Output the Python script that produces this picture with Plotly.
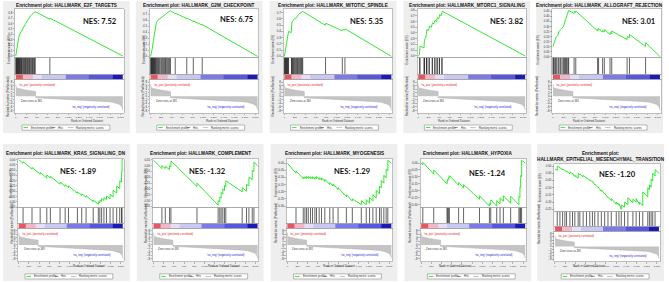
import plotly.graph_objects as go

W, H = 669, 282

# ---------------- data ----------------
panel_titles = [
    "Enrichment plot: HALLMARK_E2F_TARGETS",
    "Enrichment plot: HALLMARK_G2M_CHECKPOINT",
    "Enrichment plot: HALLMARK_MITOTIC_SPINDLE",
    "Enrichment plot: HALLMARK_MTORC1_SIGNALING",
    "Enrichment plot: HALLMARK_ALLOGRAFT_REJECTION",
    "Enrichment plot: HALLMARK_KRAS_SIGNALING_DN",
    "Enrichment plot: HALLMARK_COMPLEMENT",
    "Enrichment plot: HALLMARK_MYOGENESIS",
    "Enrichment plot: HALLMARK_HYPOXIA",
    "Enrichment plot:<br>HALLMARK_EPITHELIAL_MESENCHYMAL_TRANSITION",
]
nes_values = [7.52, 6.75, 5.35, 3.82, 3.01, -1.89, -1.32, -1.29, -1.24, -1.20]

# E2F targets
es_rank_e2f = [0, 20, 40, 60, 80, 100, 130, 160, 190, 220, 250, 280, 310, 340, 370, 648, 652, 2040]
es_score_e2f = [0.0, 0.15, 0.27, 0.36, 0.41, 0.45, 0.50, 0.55, 0.60, 0.65, 0.70, 0.74, 0.77, 0.80, 0.82, 0.68, 0.70, 0.0]
hits_e2f = [2, 8, 15, 22, 30, 36, 45, 52, 60, 68, 75, 85, 95, 105, 112, 120, 135, 150, 160, 172, 185, 195,
            210, 222, 235, 248, 262, 275, 290, 305, 318, 330, 345, 358, 372, 650]
es_ticks_e2f = [0.0, 0.1, 0.2, 0.3, 0.4, 0.5, 0.6, 0.7, 0.8]

# G2M checkpoint
es_rank_g2m = [0, 30, 60, 90, 110, 140, 180, 220, 260, 300, 340, 380, 470, 471, 690, 691, 815, 816, 985, 986, 2040]
es_score_g2m = [0.0, 0.12, 0.30, 0.48, 0.56, 0.60, 0.63, 0.66, 0.69, 0.72, 0.74, 0.76, 0.71, 0.72, 0.63, 0.64,
                0.58, 0.59, 0.52, 0.53, 0.0]
hits_g2m = [3, 10, 18, 25, 33, 40, 50, 58, 66, 75, 85, 95, 108, 120, 135, 150, 165, 180, 200, 215, 232, 250,
            268, 285, 300, 320, 340, 360, 380, 470, 690, 815, 985]
es_ticks_g2m = [0.0, 0.1, 0.2, 0.3, 0.4, 0.5, 0.6, 0.7]

# Mitotic spindle
es_rank_mit = [0, 20, 45, 80, 130, 145, 190, 235, 265, 305, 350, 780, 790, 1100, 1110, 1150, 1160, 2040]
es_score_mit = [0.0, 0.10, 0.20, 0.40, 0.38, 0.55, 0.60, 0.62, 0.67, 0.70, 0.72, 0.50, 0.53, 0.41, 0.43, 0.42,
                0.44, 0.0]
hits_mit = [2, 9, 16, 24, 32, 40, 48, 56, 64, 72, 80, 135, 142, 150, 160, 175, 190, 205, 220, 235, 250, 265,
            280, 295, 310, 325, 340, 350, 785, 1105, 1155]
es_ticks_mit = [0.0, 0.1, 0.2, 0.3, 0.4, 0.5, 0.6, 0.7]

# MTORC1 signaling
es_rank_mtor = [0, 25, 35, 110, 120, 150, 165, 200, 215, 250, 275, 300, 320, 350, 365, 395, 410, 440, 460, 2040]
es_score_mtor = [0.0, 0.02, 0.17, 0.14, 0.28, 0.33, 0.46, 0.44, 0.52, 0.50, 0.58, 0.56, 0.62, 0.60, 0.67, 0.65,
                 0.72, 0.70, 0.78, 0.0]
hits_mtor = [30, 33, 113, 117, 121, 158, 162, 166, 208, 212, 268, 272, 316, 320, 360, 364, 403, 407, 452, 456]
es_ticks_mtor = [0.0, 0.1, 0.2, 0.3, 0.4, 0.5, 0.6, 0.7, 0.8]

# Allograft rejection
es_rank_allo = [0, 20, 38, 62, 95, 110, 150, 200, 240, 270, 300, 403, 404, 435, 436, 851, 852, 870, 871, 947,
                948, 979, 980, 1088, 1089, 1120, 1121, 1414, 1415, 1459, 1460, 1766, 1767, 2040]
es_score_allo = [0.10, 0.13, 0.15, 0.20, 0.21, 0.25, 0.27, 0.30, 0.37, 0.42, 0.46, 0.43, 0.45, 0.44, 0.455,
                 0.255, 0.275, 0.267, 0.28, 0.245, 0.26, 0.245, 0.27, 0.22, 0.24, 0.225, 0.255, 0.17, 0.20,
                 0.19, 0.22, 0.10, 0.14, 0.0]
hits_allo = [0, 8, 20, 38, 55, 62, 95, 110, 135, 150, 175, 200, 220, 240, 255, 270, 290, 300, 403, 435, 851,
             870, 947, 979, 1088, 1120, 1414, 1459, 1766]
es_ticks_allo = [0.0, 0.05, 0.10, 0.15, 0.20, 0.25, 0.30, 0.35, 0.40, 0.45]

# KRAS signaling DN
es_rank_kras = [0, 85, 86, 260, 261, 420, 421, 550, 551, 620, 621, 810, 811, 910, 911, 975, 976, 1150, 1151,
                1235, 1236, 1320, 1321, 1460, 1461, 1560, 1561, 1590, 1591, 1625, 1626, 1670, 1671, 1720, 1721,
                1790, 1791, 1850, 1851, 1920, 1921, 1980, 1981, 2015, 2016, 2025, 2026, 2040]
es_score_kras = [0.0, -0.034, -0.019, -0.089, -0.074, -0.138, -0.123, -0.175, -0.145, -0.173, -0.158, -0.234,
                 -0.214, -0.254, -0.239, -0.265, -0.25, -0.32, -0.305, -0.339, -0.324, -0.358, -0.343, -0.399,
                 -0.384, -0.424, -0.40, -0.412, -0.385, -0.399, -0.37, -0.388, -0.36, -0.38, -0.345, -0.373,
                 -0.33, -0.354, -0.29, -0.318, -0.25, -0.274, -0.20, -0.214, -0.12, -0.124, 0.004, 0.0]
hits_kras = [85, 260, 420, 550, 620, 810, 910, 975, 1150, 1235, 1320, 1460, 1560, 1590, 1625, 1670, 1720, 1790,
             1850, 1920, 1980, 2015, 2025]
es_ticks_kras = [0.0, -0.05, -0.10, -0.15, -0.20, -0.25, -0.30, -0.35, -0.40, -0.45]

# Complement
es_rank_comp = [0, 164, 165, 230, 231, 315, 316, 341, 342, 852, 853, 1266, 1267, 1299, 1300, 1325, 1326, 1358,
                1359, 1390, 1391, 1417, 1418, 1738, 1739, 1823, 1824, 1870, 1871, 1935, 1936, 1968, 1969, 2040]
es_score_comp = [0.045, -0.025, 0.0, -0.025, -0.005, -0.035, 0.0, -0.01, 0.04, -0.18, -0.15, -0.34, -0.30,
                 -0.314, -0.27, -0.281, -0.23, -0.245, -0.20, -0.214, -0.17, -0.182, -0.13, -0.225, -0.19,
                 -0.22, -0.16, -0.175, -0.10, -0.12, -0.04, -0.05, 0.03, 0.0]
hits_comp = [164, 230, 315, 341, 852, 1266, 1299, 1325, 1358, 1390, 1417, 1738, 1823, 1870, 1935, 1968]
es_ticks_comp = [0.05, 0.0, -0.05, -0.10, -0.15, -0.20, -0.25, -0.30, -0.35]

# Myogenesis
es_rank_myo = [0, 170, 171, 312, 313, 345, 346, 377, 378, 410, 411, 455, 456, 494, 495, 540, 541, 572, 573, 624,
               625, 670, 671, 735, 736, 832, 833, 897, 898, 995, 996, 1157, 1158, 1274, 1275, 1450, 1451, 1547,
               1548, 1612, 1613, 1677, 1678, 1742, 1743, 1807, 1808, 1840, 1841, 1892, 1893, 1937, 1938, 1970,
               1971, 2040]
es_score_myo = [0.0, -0.07, -0.055, -0.11, -0.095, -0.108, -0.094, -0.107, -0.093, -0.106, -0.092, -0.11,
                -0.095, -0.11, -0.095, -0.113, -0.097, -0.11, -0.094, -0.115, -0.10, -0.118, -0.102, -0.128,
                -0.112, -0.15, -0.135, -0.16, -0.145, -0.185, -0.17, -0.235, -0.22, -0.265, -0.25, -0.29,
                -0.262, -0.29, -0.255, -0.28, -0.24, -0.265, -0.22, -0.245, -0.19, -0.215, -0.16, -0.173,
                -0.12, -0.14, -0.085, -0.103, -0.04, -0.053, 0.02, 0.0]
hits_myo = [170, 312, 345, 377, 410, 455, 494, 540, 572, 624, 670, 735, 832, 897, 995, 1157, 1274, 1450, 1547,
            1612, 1677, 1742, 1807, 1840, 1892, 1937, 1970]
es_ticks_myo = [0.0, -0.05, -0.10, -0.15, -0.20, -0.25, -0.30]

# Hypoxia
es_rank_hyp = [0, 33, 34, 247, 248, 507, 508, 520, 521, 540, 541, 553, 554, 735, 736, 832, 833, 1144, 1145,
               1339, 1340, 1365, 1366, 1482, 1483, 1547, 1548, 1612, 1613, 1755, 1756, 1917, 1918, 1937, 1938,
               1950, 1951, 1970, 1971, 2040]
es_score_hyp = [0.0, -0.013, 0.005, -0.08, -0.05, -0.15, -0.13, -0.135, -0.115, -0.12, -0.10, -0.105, -0.09,
                -0.16, -0.14, -0.18, -0.155, -0.26, -0.235, -0.31, -0.29, -0.30, -0.265, -0.31, -0.27, -0.295,
                -0.25, -0.275, -0.235, -0.29, -0.24, -0.30, -0.24, -0.248, -0.17, -0.175, -0.09, -0.098, 0.02,
                0.0]
hits_hyp = [33, 247, 507, 520, 540, 553, 735, 832, 1144, 1339, 1365, 1482, 1547, 1612, 1755, 1917, 1937, 1950,
            1970]
es_ticks_hyp = [0.0, -0.05, -0.10, -0.15, -0.20, -0.25, -0.30]

# Epithelial mesenchymal transition
es_rank_emt = [0, 45, 46, 98, 99, 150, 151, 195, 196, 228, 229, 293, 294, 345, 346, 390, 391, 455, 456, 488,
               489, 553, 554, 618, 619, 683, 684, 735, 736, 780, 781, 845, 846, 910, 911, 975, 976, 1040, 1041,
               1105, 1106, 1202, 1203, 1255, 1256, 1300, 1301, 1365, 1366, 1430, 1431, 1528, 1529, 1592, 1593,
               1657, 1658, 1722, 1723, 1820, 1821, 1852, 1853, 1885, 1886, 1917, 1918, 1963, 1964, 2040]
es_score_emt = [0.03, 0.02, 0.05, 0.035, 0.04, 0.025, 0.03, 0.015, 0.02, 0.01, 0.015, -0.005, 0.01, -0.005,
                0.0, -0.025, -0.015, -0.035, 0.0, -0.01, -0.005, -0.025, -0.015, -0.035, -0.03, -0.05, -0.045,
                -0.06, -0.055, -0.08, -0.075, -0.10, -0.095, -0.125, -0.115, -0.145, -0.14, -0.17, -0.165,
                -0.19, -0.175, -0.215, -0.20, -0.222, -0.21, -0.25, -0.22, -0.235, -0.20, -0.22, -0.17, -0.205,
                -0.18, -0.20, -0.175, -0.215, -0.20, -0.225, -0.13, -0.165, -0.10, -0.115, -0.08, -0.098,
                -0.04, -0.055, 0.0, -0.02, 0.025, 0.0]
hits_emt = [45, 98, 150, 195, 228, 293, 345, 390, 455, 488, 553, 618, 683, 735, 780, 845, 910, 975, 1040, 1105,
            1202, 1255, 1300, 1365, 1430, 1528, 1592, 1657, 1722, 1820, 1852, 1885, 1917, 1963]
es_ticks_emt = [0.05, 0.0, -0.05, -0.10, -0.15, -0.20, -0.25]

# ranking metric (shared ranked list)
metric_rank = [0, 3, 10, 30, 60, 100, 160, 240, 320, 380, 381, 450, 600, 800, 1000, 1200, 1400, 1600, 1750,
               1850, 1930, 1980, 2010, 2030, 2040]
metric_val = [7.0, 5.6, 5.0, 4.6, 4.3, 4.0, 3.7, 3.3, 3.0, 2.7, -0.8, -0.9, -1.1, -1.3, -1.6, -1.9, -2.2, -2.6,
              -3.0, -3.4, -4.0, -4.6, -5.4, -6.4, -7.8]
metric_ticks = [-8, -6, -4, -2, 0, 2, 4, 6, 8]

# colour bar blocks along the ranked list
cbar_edges = [0, 140, 330, 500, 950, 1400, 1850, 2040]
cbar_level = [0, 1, 2, 3, 4, 5, 6]
cbar_colors = ["#ea5660", "#f4b6c6", "#e6def6", "#c8c8f4", "#7a7aec", "#5656e0", "#1a1ab8"]

rank_ticks = [0, 200, 400, 600, 800, 1000, 1200, 1400, 1600, 1800, 2000]
rank_tick_text = ["0", "200", "400", "600", "800", "1,000", "1,200", "1,400", "1,600", "1,800", "2,000"]

legend_labels = ["Enrichment profile", "Hits", "Ranking metric scores"]
zero_cross_text = "Zero cross at 381"
pos_text = "'na_pos' (positively correlated)"
neg_text = "'na_neg' (negatively correlated)"

panels = [
    (es_rank_e2f, es_score_e2f, hits_e2f, es_ticks_e2f),
    (es_rank_g2m, es_score_g2m, hits_g2m, es_ticks_g2m),
    (es_rank_mit, es_score_mit, hits_mit, es_ticks_mit),
    (es_rank_mtor, es_score_mtor, hits_mtor, es_ticks_mtor),
    (es_rank_allo, es_score_allo, hits_allo, es_ticks_allo),
    (es_rank_kras, es_score_kras, hits_kras, es_ticks_kras),
    (es_rank_comp, es_score_comp, hits_comp, es_ticks_comp),
    (es_rank_myo, es_score_myo, hits_myo, es_ticks_myo),
    (es_rank_hyp, es_score_hyp, hits_hyp, es_ticks_hyp),
    (es_rank_emt, es_score_emt, hits_emt, es_ticks_emt),
]

# ---------------- layout config (pixels) ----------------
es_ranges = [[-0.03, 0.87], [-0.02, 0.79], [-0.02, 0.76], [-0.03, 0.82], [-0.01, 0.475],
             [-0.455, 0.008], [-0.36, 0.058], [-0.31, 0.03], [-0.32, 0.03], [-0.265, 0.065]]
tick_fmt = [".1f", ".1f", ".1f", ".1f", ".2f", ".2f", ".2f", ".2f", ".2f", ".2f"]
nes_rel = [(0.78, 20), (0.80, 18), (0.76, 20), (0.82, 20), (0.79, 20),
           (0.57, 171), (0.52, 171), (0.62, 171), (0.63, 173), (0.60, 174)]
x_range = [-15, 2060]

GREEN = "#33e833"
HIT = "#222222"
MET_FILL = "#c4c4c4"
MET_LINE = "#b0b0b0"
FRAME = "#9a9a9a"
TXT = "#333333"
TF = 2.9
XTF = 2.5
LF = 2.8


def geometry(i):
    col = i % 5
    if i < 5:
        L = [15, 150, 284, 418, 553][col]
        R = L + 109
        g = dict(L=L, R=R, es=(8, 57), hits=(57, 74), cb=(74, 79), met=(79, 113),
                 xlab=120.5, leg=127.5, title=4.5, bg=([3, 136, 270, 404, 537][col], 0, 133))
    else:
        L = [18, 153, 287, 421, 555][col]
        R = L + 106
        g = dict(L=L, R=R, es=(159, 208), hits=(208, 224), cb=(224, 229), met=(229, 262.3),
                 xlab=271.0, leg=277.4, title=154, bg=([3, 137, 271, 405, 538][col], 144, 282))
        if i == 9:
            g.update(es=(164, 212), hits=(212, 227), cb=(227, 232), met=(232, 262.3), title=157)
    return g


def sx(k):
    return "" if k == 1 else str(k)


fig = go.Figure()
layout = dict(width=W, height=H, margin=dict(l=0, r=0, t=0, b=0),
              paper_bgcolor="white", plot_bgcolor="white", showlegend=False,
              font=dict(family="Liberation Sans, Arial, sans-serif", color=TXT))
shapes = []
annotations = []

n_c = len(cbar_colors)
cscale = []
for j, c in enumerate(cbar_colors):
    cscale.append([j / n_c, c])
    cscale.append([(j + 1) / n_c, c])

# backgrounds first (gray panels, then white plot columns)
for i in range(10):
    g = geometry(i)
    bx, by0, by1 = g["bg"]
    shapes.append(dict(type="rect", xref="paper", yref="paper", x0=bx / W, x1=(bx + 127) / W,
                       y0=1 - by1 / H, y1=1 - by0 / H, fillcolor="#eeeeee", line=dict(width=0), layer="below"))
for i in range(10):
    g = geometry(i)
    shapes.append(dict(type="rect", xref="paper", yref="paper", x0=g["L"] / W, x1=g["R"] / W,
                       y0=1 - g["met"][1] / H, y1=1 - g["es"][0] / H, fillcolor="white",
                       line=dict(width=0), layer="below"))


def dom_y(a, b):
    return [1 - b / H, 1 - a / H]


for i, (er, es, hits, eticks) in enumerate(panels):
    g = geometry(i)
    xd = [g["L"] / W, g["R"] / W]
    k_es, k_hit, k_cb, k_met = 4 * i + 1, 4 * i + 2, 4 * i + 3, 4 * i + 4

    common_x = dict(domain=xd, range=x_range, showgrid=False, zeroline=False, showline=True, mirror=True,
                    linecolor=FRAME, linewidth=0.6, fixedrange=True)
    # ES axes
    layout["xaxis" + sx(k_es)] = dict(common_x, anchor="y" + sx(k_es), showticklabels=False, ticks="")
    layout["yaxis" + sx(k_es)] = dict(domain=dom_y(*g["es"]), anchor="x" + sx(k_es), range=es_ranges[i],
                                      tickvals=eticks, ticktext=[format(v, tick_fmt[i]) for v in eticks],
                                      tickfont=dict(size=TF, color=TXT), ticks="outside", ticklen=1.5,
                                      tickwidth=0.5, tickcolor="#777", showgrid=False, zeroline=False,
                                      showline=True, mirror=True, linecolor=FRAME, linewidth=0.6)
    # hits axes
    layout["xaxis" + sx(k_hit)] = dict(common_x, anchor="y" + sx(k_hit), showticklabels=False, ticks="")
    layout["yaxis" + sx(k_hit)] = dict(domain=dom_y(*g["hits"]), anchor="x" + sx(k_hit), range=[0, 1],
                                       showticklabels=False, ticks="", showgrid=False, zeroline=False,
                                       showline=True, mirror=True, linecolor=FRAME, linewidth=0.6)
    # colour bar axes
    layout["xaxis" + sx(k_cb)] = dict(common_x, anchor="y" + sx(k_cb), showticklabels=False, ticks="")
    layout["yaxis" + sx(k_cb)] = dict(domain=dom_y(*g["cb"]), anchor="x" + sx(k_cb), range=[0, 1],
                                      showticklabels=False, ticks="", showgrid=False, zeroline=False,
                                      showline=True, mirror=True, linecolor=FRAME, linewidth=0.4)
    # metric axes
    layout["xaxis" + sx(k_met)] = dict(common_x, anchor="y" + sx(k_met), tickvals=rank_ticks,
                                       ticktext=rank_tick_text, tickfont=dict(size=XTF, color=TXT),
                                       tickangle=0, ticks="outside", ticklen=1.5, tickwidth=0.5,
                                       tickcolor="#777")
    layout["yaxis" + sx(k_met)] = dict(domain=dom_y(*g["met"]), anchor="x" + sx(k_met), range=[-9.5, 9.5],
                                       tickvals=metric_ticks, tickfont=dict(size=TF, color=TXT),
                                       ticks="outside", ticklen=1.5, tickwidth=0.5, tickcolor="#777",
                                       showgrid=False, zeroline=False, showline=True, mirror=True,
                                       linecolor=FRAME, linewidth=0.6)

    # traces
    fig.add_trace(go.Scatter(x=er, y=es, mode="lines", line=dict(color=GREEN, width=1),
                             xaxis="x" + sx(k_es), yaxis="y" + sx(k_es), hoverinfo="skip"))
    hx, hy = [], []
    for h in hits:
        hx += [h, h, None]
        hy += [0, 1, None]
    fig.add_trace(go.Scatter(x=hx, y=hy, mode="lines", line=dict(color=HIT, width=0.7),
                             xaxis="x" + sx(k_hit), yaxis="y" + sx(k_hit), hoverinfo="skip"))
    fig.add_trace(go.Heatmap(x=cbar_edges, y=[0, 1], z=[cbar_level], colorscale=cscale, zmin=-0.5,
                             zmax=n_c - 0.5, showscale=False, xaxis="x" + sx(k_cb), yaxis="y" + sx(k_cb),
                             hoverinfo="skip"))
    fig.add_trace(go.Scatter(x=metric_rank, y=metric_val, mode="lines", fill="tozeroy",
                             fillcolor=MET_FILL, line=dict(color=MET_LINE, width=0.5),
                             xaxis="x" + sx(k_met), yaxis="y" + sx(k_met), hoverinfo="skip"))

    # metric annotations
    annotations.append(dict(text=pos_text, x=20, y=8.8, xref="x" + sx(k_met), yref="y" + sx(k_met),
                            xanchor="left", yanchor="top", showarrow=False,
                            font=dict(size=2.7, color="#e02020")))
    annotations.append(dict(text=zero_cross_text, x=300, y=-0.3, xref="x" + sx(k_met), yref="y" + sx(k_met),
                            xanchor="center", yanchor="top", showarrow=False,
                            font=dict(size=2.7, color="#333333")))
    annotations.append(dict(text=neg_text, x=1420, y=-5.8, xref="x" + sx(k_met), yref="y" + sx(k_met),
                            xanchor="center", yanchor="middle", showarrow=False,
                            font=dict(size=2.7, color="#2020d0")))

    # title
    bx = g["bg"][0]
    annotations.append(dict(text="<b>" + panel_titles[i] + "</b>", x=(bx + 63.5) / W, y=1 - g["title"] / H,
                            xref="paper", yref="paper", xanchor="center", yanchor="middle", showarrow=False,
                            font=dict(size=4.7, color="#111111"), align="center"))
    # NES
    rx, ry = nes_rel[i]
    annotations.append(dict(text="<b>NES: %.2f</b>" % nes_values[i], x=(g["L"] + rx * (g["R"] - g["L"])) / W,
                            y=1 - ry / H, xref="paper", yref="paper", xanchor="center", yanchor="middle",
                            showarrow=False, font=dict(size=7.6, color="#111111", family="Lato, sans-serif")))
    # axis titles
    annotations.append(dict(text="Enrichment score (ES)", x=(g["L"] - 10.5) / W,
                            y=1 - (g["es"][0] + g["es"][1]) / 2 / H, xref="paper", yref="paper",
                            textangle=-90, showarrow=False, font=dict(size=TF, color=TXT)))
    annotations.append(dict(text="Ranked list metric (PreRanked)", x=(g["L"] - 10.5) / W,
                            y=1 - (g["met"][0] + g["met"][1]) / 2 / H, xref="paper", yref="paper",
                            textangle=-90, showarrow=False, font=dict(size=TF, color=TXT)))
    annotations.append(dict(text="Rank in Ordered Dataset", x=(g["L"] + g["R"]) / 2 / W,
                            y=1 - g["xlab"] / H, xref="paper", yref="paper", showarrow=False,
                            font=dict(size=TF, color=TXT)))

    # legend box
    L = g["L"]
    ly = g["leg"]
    shapes.append(dict(type="rect", xref="paper", yref="paper", x0=(L + 7) / W, x1=(L + 95) / W,
                       y0=1 - (ly + 2.6) / H, y1=1 - (ly - 2.6) / H, fillcolor="white",
                       line=dict(color="#777777", width=0.5)))
    sw = [(8.5, 13, GREEN, 1), (37, 40.5, "#555555", 0.7), (53, 58.5, "#c0c0c0", 1)]
    tx = [14, 41.5, 59.5]
    for (a, b, c, w), t, lab in zip(sw, tx, legend_labels):
        shapes.append(dict(type="line", xref="paper", yref="paper", x0=(L + a) / W, x1=(L + b) / W,
                           y0=1 - ly / H, y1=1 - ly / H, line=dict(color=c, width=w)))
        annotations.append(dict(text=lab, x=(L + t) / W, y=1 - ly / H, xref="paper", yref="paper",
                                xanchor="left", yanchor="middle", showarrow=False,
                                font=dict(size=LF, color=TXT)))

layout["shapes"] = shapes
layout["annotations"] = annotations
fig.update_layout(**layout)
fig.write_html("out.html", config={"displayModeBar": False, "staticPlot": True},
               post_script="document.body.style.margin='0';document.body.style.overflow='hidden';")
